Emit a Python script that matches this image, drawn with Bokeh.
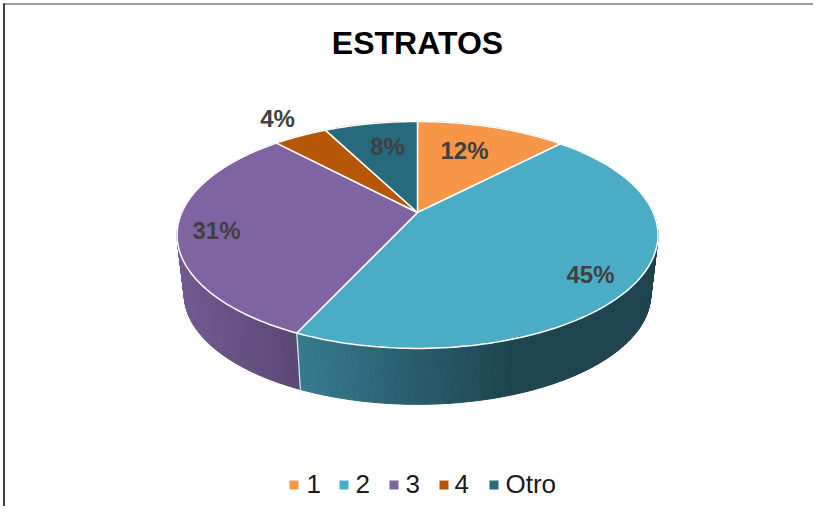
import numpy as np
from bokeh.plotting import figure
from bokeh.core.properties import value
from bokeh.embed import file_html
from bokeh.resources import INLINE

categories = ["1", "2", "3", "4", "Otro"]
shares = [12.2, 44.7, 31.1, 4.4, 7.6]
share_labels = ["12%", "45%", "31%", "4%", "8%"]
title_text = "ESTRATOS"

colors = ["#F79646", "#4BACC6", "#8064A2", "#B65708", "#276A7C"]
W, H = 813, 506
CX, CY, A, B, K = 417.0, 212.0, 235.7, 109.0, 0.198
BOTTOM_SCALE, BOTTOM_CY = 0.97, 272.0


def project(theta, scale=1.0, cy=CY):
    u, v = np.sin(theta), np.cos(theta)
    d = 1 + K * v
    return CX + scale * A * u / d, cy - scale * B * v / d


def shade(hex_color, x):
    f = float(np.clip(0.9 - 0.0015 * (x - 177), 0.40, 0.9))
    rgb = [int(hex_color[i:i + 2], 16) for i in (1, 3, 5)]
    return "#%02x%02x%02x" % tuple(int(c * f) for c in rgb)


p = figure(width=W, height=H, x_range=(0, W), y_range=(H, 0),
           output_backend="svg", toolbar_location=None,
           min_border=0, outline_line_color=None, background_fill_color="white")
p.xaxis.visible = False
p.yaxis.visible = False
p.grid.visible = False

edges = np.concatenate([[0], np.cumsum(shares)]) / sum(shares) * 2 * np.pi

# side wall, back to front
quads = []
for i, col in enumerate(colors):
    n = max(4, int((edges[i + 1] - edges[i]) / 0.012))
    t = np.linspace(edges[i], edges[i + 1], n + 1)
    for a, b in zip(t[:-1], t[1:]):
        xa, ya = project(a)
        xb, yb = project(b)
        xc, yc = project(b, BOTTOM_SCALE, BOTTOM_CY)
        xd, yd = project(a, BOTTOM_SCALE, BOTTOM_CY)
        quads.append((np.cos((a + b) / 2), [xa, xb, xc, xd], [ya, yb, yc, yd],
                      shade(col, (xa + xb) / 2)))
quads.sort(key=lambda q: -q[0])
p.patches(xs=[q[1] for q in quads], ys=[q[2] for q in quads],
          fill_color=[q[3] for q in quads], line_color=[q[3] for q in quads],
          line_width=1)

# white seam on the front wall where slices meet
for e in edges[1:-1]:
    if np.cos(e) < 0:
        x0, y0 = project(e)
        x1, y1 = project(e, BOTTOM_SCALE, BOTTOM_CY)
        p.line([x0, x1], [y0, y1], line_color="white", line_width=1.2, line_alpha=0.85)

# top surface
xs, ys = [], []
for i in range(len(shares)):
    t = np.linspace(edges[i], edges[i + 1], 120)
    x, y = project(t)
    xs.append([CX, *x])
    ys.append([CY, *y])
p.patches(xs=xs, ys=ys, fill_color=colors, line_color="white", line_width=1.5,
          line_join="round")

# slice labels
label_x = [464, 590, 216, 277, 387]
label_y = [150, 274, 230, 118, 146]
p.text(x=label_x, y=label_y, text=share_labels, text_font=value("Liberation Sans"),
       text_font_style="bold", text_font_size="24px", text_color="#404040",
       text_align="center", text_baseline="middle")

# title
p.text(x=[417], y=[42], text=[title_text], text_font=value("Liberation Sans"),
       text_font_style="bold", text_font_size="32px", text_color="#000000",
       text_align="center", text_baseline="middle")

# legend
swatch_x = [293.5, 343.5, 393.5, 443.5, 493.5]
text_x = [306, 355, 405, 454, 505]
p.rect(x=swatch_x, y=[484.5] * 5, width=9, height=9, fill_color=colors, line_color=None)
p.text(x=text_x, y=[483] * 5, text=categories, text_font=value("Liberation Sans"),
       text_font_size="26px", text_color="#1a1a1a", text_align="left",
       text_baseline="middle")

# frame lines, top and left only
p.line([3, W], [3.5, 3.5], line_color="#7f7f7f", line_width=1.5)
p.line([3.5, 3.5], [3, H], line_color="#000000", line_width=1.5)

open("out.html", "w").write(file_html(p, INLINE))
